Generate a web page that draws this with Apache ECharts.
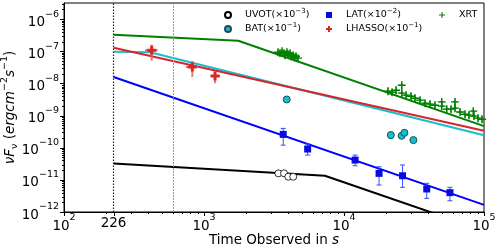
<!DOCTYPE html>
<html><head><meta charset="utf-8">
<script src="https://cdn.jsdelivr.net/npm/echarts@6/dist/echarts.min.js"></script>
<style>html,body{margin:0;padding:0;background:#fff}#c{width:499px;height:250px}</style>
</head><body><div id="c"></div>
<script>
const FONT = 'DejaVu Sans';

// ---- axis ticks ----
const xMajorTicks = [100, 226, 1000, 10000, 100000];
const yDecadeTicks = [1e-12, 1e-11, 1e-10, 1e-9, 1e-8, 1e-7, 1e-6];
const vLineDotted = 226;
const vLineGray = 600;

// ---- model lines (break points) ----
const xrtModelT = [226, 1758, 100000];
const xrtModelF = [3.25e-7, 2.12e-7, 4.7e-10];
const lhassoModelT = [226, 100000];
const lhassoModelF = [1.28e-7, 3.35e-10];
const batModelT = [226, 411, 100000];
const batModelF = [9.7e-8, 9.25e-8, 2.43e-10];
const latModelT = [226, 100000];
const latModelF = [1.58e-8, 1.66e-12];
const uvotModelT = [226, 7310, 100000];
const uvotModelF = [3.25e-11, 1.34e-11, 2.65e-13];

// ---- data points ----
const uvotT = [3400, 3730, 4000, 4340];
const uvotF = [1.59e-11, 1.6e-11, 1.25e-11, 1.25e-11];

const batT = [3900, 21600, 25800, 27000, 31300];
const batF = [3.16e-9, 2.46e-10, 2.34e-10, 2.9e-10, 1.72e-10];
const batFLo = [2.9e-9, 1.95e-10, 1.95e-10, 2.45e-10, 1.5e-10];
const batFHi = [3.45e-9, 3.1e-10, 2.8e-10, 3.45e-10, 1.95e-10];

const latT = [3680, 5500, 12000, 17800, 26200, 39000, 57100];
const latF = [2.59e-10, 9.1e-11, 4.12e-11, 1.59e-11, 1.34e-11, 5.2e-12, 4.0e-12];
const latFLo = [1.2e-10, 5.9e-11, 2.74e-11, 6.9e-12, 5.85e-12, 2.66e-12, 2.24e-12];
const latFHi = [3.98e-10, 1.3e-10, 5.9e-11, 2.55e-11, 2.9e-11, 7.8e-12, 5.85e-12];

const lhassoT = [423, 825, 1199];
const lhassoF = [1.07e-7, 3.25e-8, 1.71e-8];
const lhassoTLo = [379, 740, 1122];
const lhassoTHi = [467, 910, 1301];
const lhassoFLo = [5.1e-8, 1.59e-8, 1.01e-8];
const lhassoFHi = [1.61e-7, 5.0e-8, 2.39e-8];

const xrtT = [3378, 3490, 3607, 3727, 3789, 3916, 3981, 4115, 4182, 4323, 4394, 4541, 4693,
  20620, 22030, 23520, 25840, 25840, 27740, 30100, 32150, 34910, 37900, 41150, 44670, 49880, 49880,
  54150, 58130, 62080, 62080, 67420, 73170, 78150, 83870, 84850, 90600, 96760];
const xrtF = [9.3e-8, 8.7e-8, 1.0e-7, 8.7e-8, 7.5e-8, 9.3e-8, 8.1e-8, 8.7e-8, 7.0e-8, 7.5e-8, 6.5e-8, 7.0e-8, 6.1e-8,
  5.73e-9, 5.33e-9, 6.15e-9, 4.97e-9, 8.79e-9, 4.31e-9, 4.0e-9, 3.47e-9, 3.01e-9, 2.43e-9, 2.26e-9, 2.1e-9, 1.96e-9, 2.66e-9,
  1.58e-9, 1.58e-9, 1.7e-9, 2.66e-9, 1.28e-9, 1.1e-9, 1.03e-9, 1.37e-9, 9.6e-10, 8.3e-10, 7.7e-10];
const xrtErrDown = [0.15, 0.14, 0.16, 0.15, 0.12, 0.16, 0.14, 0.15, 0.13, 0.14, 0.12, 0.14, 0.12,
  0.22, 0.2, 0.25, 0.2, 0.45, 0.22, 0.2, 0.22, 0.2, 0.2, 0.22, 0.2, 0.2, 0.3,
  0.2, 0.22, 0.2, 0.35, 0.2, 0.2, 0.22, 0.3, 0.2, 0.22, 0.2];
const xrtErrUp = [0.18, 0.16, 0.18, 0.18, 0.15, 0.2, 0.16, 0.18, 0.15, 0.16, 0.14, 0.16, 0.14,
  0.28, 0.25, 0.3, 0.25, 0.25, 0.28, 0.25, 0.28, 0.25, 0.25, 0.28, 0.25, 0.25, 0.2,
  0.25, 0.28, 0.25, 0.2, 0.25, 0.25, 0.28, 0.2, 0.25, 0.28, 0.25];
const xrtXErr = [0.02, 0.02, 0.02, 0.02, 0.02, 0.02, 0.02, 0.02, 0.02, 0.02, 0.02, 0.02, 0.02,
  0.035, 0.035, 0.035, 0.035, 0.035, 0.035, 0.035, 0.035, 0.035, 0.035, 0.035, 0.035, 0.035, 0.035,
  0.035, 0.035, 0.035, 0.035, 0.035, 0.035, 0.035, 0.035, 0.035, 0.035, 0.035];

const legendDefs = [
  {name: 'UVOT', label: 'UVOT(×10{s|\u22123})', left: 224, top: 8},
  {name: 'BAT', label: 'BAT(×10{s|\u22121})', left: 224, top: 22},
  {name: 'LAT', label: 'LAT(×10{s|\u22122})', left: 326, top: 8},
  {name: 'LHASSO', label: 'LHASSO(×10{s|\u22121})', left: 326, top: 22},
  {name: 'XRT', label: 'XRT', left: 439, top: 8}
];

// ---- build ----
const zip = (a, b) => a.map((v, i) => [v, b[i]]);
const X_MIN = 100, X_MAX = 100000, Y_MIN = 1e-12, Y_MAX = Math.pow(10, -5.5);

function decadeLabel(v) {
  const e = Math.log10(v), r = Math.round(e);
  if (Math.abs(e - r) > 1e-6) return '';
  return '{b|10}{s|' + (r < 0 ? '\u2212' : '') + Math.abs(r) + '}';
}
const tickRich = {
  b: {fontFamily: FONT, fontSize: 13.5, color: '#000', lineHeight: 20, verticalAlign: 'bottom'},
  s: {fontFamily: FONT, fontSize: 9.5, color: '#000', lineHeight: 12, verticalAlign: 'top'}
};

const xMinor = [], yMinor = [];
for (let d = 100; d < X_MAX; d *= 10) for (let k = 2; k <= 9; k++) xMinor.push(k * d);
for (let e = -12; e <= -6; e++) for (let k = 2; k <= 9; k++) { const v = k * Math.pow(10, e); if (v < Y_MAX) yMinor.push(v); }

const tickData = [];
xMajorTicks.forEach(v => tickData.push([v, Y_MIN, 0, 4]));
xMinor.forEach(v => tickData.push([v, Y_MIN, 0, 2]));
yDecadeTicks.forEach(v => tickData.push([X_MIN, v, 1, 4]));
yMinor.forEach(v => tickData.push([X_MIN, v, 1, 2]));

function lineSeries(T, F, color, w, z) {
  return {type: 'line', data: zip(T, F), showSymbol: false, symbol: 'none', clip: true, z: z,
    lineStyle: {color: color, width: w}, itemStyle: {color: color}, silent: true, legendHoverLink: false};
}
function errSeries(data, color, width, cap, opacity, z) {
  return {type: 'custom', data: data, z: z, clip: false, silent: true, encode: {x: 0, y: 1},
    renderItem: function (params, api) {
      const t = api.value(0), f = api.value(1), tl = api.value(2), th = api.value(3), fl = api.value(4), fh = api.value(5);
      const c = api.coord([t, f]);
      const st = {stroke: color, lineWidth: width, opacity: opacity};
      const ch = [];
      if (fl !== fh) {
        const a = api.coord([t, fl]), b = api.coord([t, fh]);
        ch.push({type: 'line', shape: {x1: c[0], y1: a[1], x2: c[0], y2: b[1]}, style: st});
        if (cap) {
          ch.push({type: 'line', shape: {x1: c[0] - cap, y1: a[1], x2: c[0] + cap, y2: a[1]}, style: st});
          ch.push({type: 'line', shape: {x1: c[0] - cap, y1: b[1], x2: c[0] + cap, y2: b[1]}, style: st});
        }
      }
      if (tl !== th) {
        const a = api.coord([tl, f]), b = api.coord([th, f]);
        ch.push({type: 'line', shape: {x1: a[0], y1: c[1], x2: b[0], y2: c[1]}, style: st});
      }
      return {type: 'group', children: ch};
    }};
}

const batErr = batT.map((t, i) => [t, batF[i], t, t, batFLo[i], batFHi[i]]);
const latErr = latT.map((t, i) => [t, latF[i], t, t, latFLo[i], latFHi[i]]);
const lhassoErr = lhassoT.map((t, i) => [t, lhassoF[i], lhassoTLo[i], lhassoTHi[i], lhassoFLo[i], lhassoFHi[i]]);
const xrtErr = xrtT.map((t, i) => [t, xrtF[i], t * (1 - xrtXErr[i]), t * (1 + xrtXErr[i]), xrtF[i] * (1 - xrtErrDown[i]), xrtF[i] * (1 + xrtErrUp[i])]);

const PLUS_FILLED = 'path://M1,0 H2 V1 H3 V2 H2 V3 H1 V2 H0 V1 H1 Z';
const PLUS_THIN = 'path://M0.41,0 H0.59 V0.41 H1 V0.59 H0.59 V1 H0.41 V0.59 H0 V0.41 H0.41 Z';
const SQUARE = 'path://M0,0 H1 V1 H0 Z';

const option = {
  animation: false,
  backgroundColor: '#fff',
  grid: {left: 64, right: 15, top: 3, bottom: 38, show: true, borderColor: '#000', borderWidth: 1,
    containLabel: false, outerBoundsMode: 'none'},
  xAxis: {type: 'log', logBase: 10, min: X_MIN, max: X_MAX,
    axisLine: {show: true, lineStyle: {color: '#000', width: 1}}, axisTick: {show: false}, splitLine: {show: false},
    axisLabel: {formatter: decadeLabel, rich: tickRich, margin: 1, showMinLabel: true, showMaxLabel: true},
    name: 'Time Observed in {i|s}', nameLocation: 'middle', nameGap: 21, nameMoveOverlap: false,
    nameTextStyle: {fontFamily: FONT, fontSize: 13.5, color: '#000',
      rich: {i: {fontFamily: FONT, fontSize: 13.5, fontStyle: 'italic', color: '#000'}}}
  },
  yAxis: {type: 'log', logBase: 10, min: Y_MIN, max: Y_MAX,
    axisLine: {show: true, lineStyle: {color: '#000', width: 1}}, axisTick: {show: false}, splitLine: {show: false},
    axisLabel: {formatter: decadeLabel, rich: tickRich, margin: 5, showMinLabel: true, showMaxLabel: true},
    name: '{i|νF}{sb|ν}{n| (}{i|ergcm}{sp|\u22122}{i|s}{sp|\u22121}{n|)}', nameLocation: 'middle', nameGap: 44, nameRotate: 90,
    nameMoveOverlap: false,
    nameTextStyle: {rich: {
      i: {fontFamily: FONT, fontSize: 13.5, fontStyle: 'italic', color: '#000', lineHeight: 20},
      n: {fontFamily: FONT, fontSize: 13.5, color: '#000', lineHeight: 20},
      sb: {fontFamily: FONT, fontSize: 9.5, color: '#000', lineHeight: 13, verticalAlign: 'bottom'},
      sp: {fontFamily: FONT, fontSize: 9.5, color: '#000', lineHeight: 12, verticalAlign: 'top'}
    }}
  },
  legend: legendDefs.map(d => ({
    data: [d.name], left: d.left, top: d.top, orient: 'horizontal', padding: 0, itemGap: 0,
    itemWidth: 24, itemHeight: 6, selectedMode: false, formatter: () => d.label,
    textStyle: {fontFamily: FONT, fontSize: 9.5, color: '#000', lineHeight: 14,
      rich: {s: {fontFamily: FONT, fontSize: 7, color: '#000', lineHeight: 8, verticalAlign: 'top'}}}
  })),
  series: [
    {type: 'custom', data: tickData, clip: false, silent: true, z: 1, encode: {x: 0, y: 1},
      renderItem: function (params, api) {
        const p = api.coord([api.value(0), api.value(1)]);
        const len = api.value(3);
        if (api.value(2) === 0) {
          const x = Math.round(p[0]) + 0.5;
          return {type: 'line', shape: {x1: x, y1: p[1], x2: x, y2: p[1] + len}, style: {stroke: '#000', lineWidth: 1}};
        }
        const y = Math.round(p[1]) + 0.5;
        return {type: 'line', shape: {x1: p[0] - len, y1: y, x2: p[0], y2: y}, style: {stroke: '#000', lineWidth: 1}};
      }},
    {type: 'custom', data: [[vLineDotted, Y_MIN]], clip: false, silent: true, z: 1, encode: {x: 0, y: 1},
      renderItem: function (params, api) {
        const p = api.coord([api.value(0), api.value(1)]);
        return {type: 'text', x: p[0], y: p[1] + 4, style: {text: String(api.value(0)), fill: '#000', fontFamily: FONT, fontSize: 13.5, align: 'center', verticalAlign: 'top'}};
      }},
    {type: 'line', data: [], silent: true, z: 2,
      markLine: {silent: true, symbol: ['none', 'none'], label: {show: false}, animation: false,
        data: [
          {xAxis: vLineDotted, lineStyle: {color: '#222', width: 1.2, type: [1.5, 1.5]}},
          {xAxis: vLineGray, lineStyle: {color: '#999', width: 1, type: [2, 1]}}
        ]}},
    lineSeries(uvotModelT, uvotModelF, '#000000', 2, 3),
    lineSeries(latModelT, latModelF, '#0000ff', 2, 3),
    lineSeries(batModelT, batModelF, '#17becf', 2, 3),
    lineSeries(lhassoModelT, lhassoModelF, '#d62728', 2, 3),
    lineSeries(xrtModelT, xrtModelF, '#008000', 2, 3),
    errSeries(batErr, '#17becf', 1, 2, 1, 4),
    errSeries(latErr, '#3050ff', 1, 2.5, 1, 4),
    errSeries(lhassoErr, '#e35d5e', 2, 0, 0.85, 4),
    errSeries(xrtErr, '#008000', 1, 0, 1, 4),
    {name: 'UVOT', type: 'scatter', data: zip(uvotT, uvotF), symbol: 'circle', symbolSize: 7, z: 5,
      itemStyle: {color: '#ffffff', borderColor: '#000000', borderWidth: 0.8, opacity: 1}},
    {name: 'BAT', type: 'scatter', data: zip(batT, batF), symbol: 'circle', symbolSize: 7, z: 5,
      itemStyle: {color: '#17becf', borderColor: '#1d4e56', borderWidth: 1, opacity: 1}},
    {name: 'LAT', type: 'scatter', data: zip(latT, latF), symbol: SQUARE, symbolSize: 7, z: 5, symbolKeepAspect: true,
      itemStyle: {color: '#0a0ae0', opacity: 1}},
    {name: 'LHASSO', type: 'scatter', data: zip(lhassoT, lhassoF), symbol: PLUS_FILLED, symbolSize: 9, z: 5,
      itemStyle: {color: '#d62728', opacity: 1}},
    {name: 'XRT', type: 'scatter', data: zip(xrtT, xrtF), symbol: PLUS_THIN, symbolSize: 8, z: 5,
      itemStyle: {color: '#008000', opacity: 1}}
  ]
};

const chart = echarts.init(document.getElementById('c'), null, {renderer: 'canvas'});
chart.setOption(option);
</script>
</body></html>
